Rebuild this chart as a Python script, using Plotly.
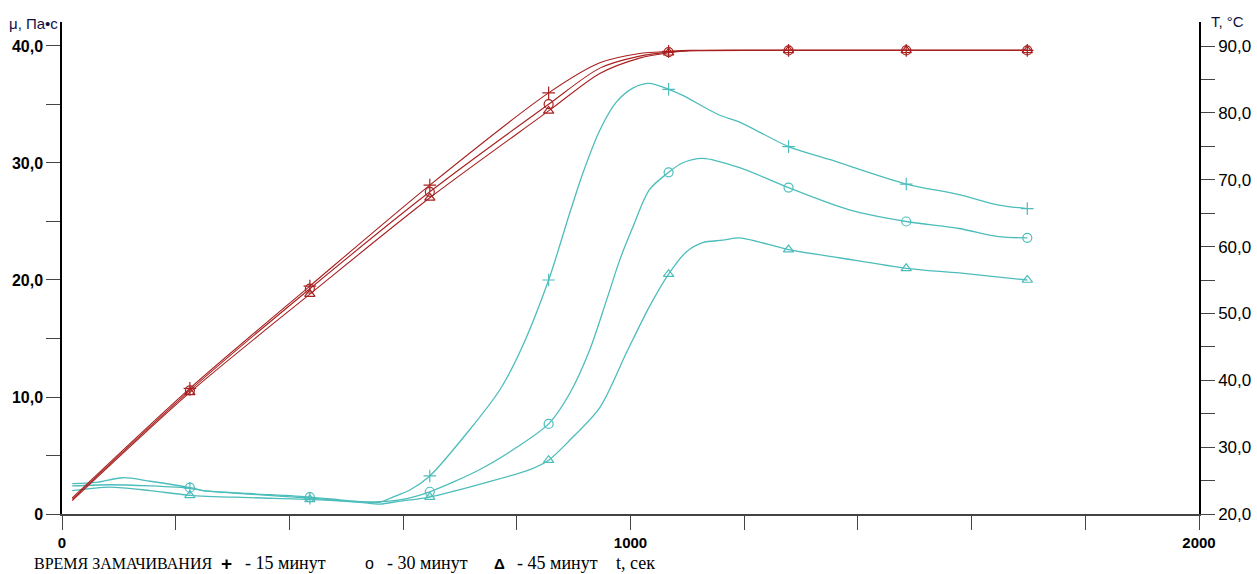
import plotly.graph_objects as go

# ---------------- data ----------------
MARK_T = [225, 436, 647, 856, 1067, 1278, 1485, 1698]

# Temperature curves (right axis, °C)
T_TIME = [18, 225, 436, 647, 856, 946, 1016, 1067, 1104, 1278, 1485, 1698]
T_15 = [22.4, 38.8, 54.1, 69.2, 83.0, 87.5, 88.9, 89.2, 89.35, 89.35, 89.35, 89.35]
T_30 = [22.2, 38.5, 53.7, 68.2, 81.3, 86.7, 88.5, 89.1, 89.3, 89.35, 89.35, 89.35]
T_45 = [22.0, 38.2, 52.9, 67.3, 80.3, 85.9, 88.2, 89.0, 89.3, 89.35, 89.35, 89.35]

# Viscosity curves (left axis, Pa*s)
MU15_T = [18, 84, 155, 225, 248, 330, 436, 489, 524, 559, 582, 612, 647, 717, 770, 805,
          856, 893, 916, 946, 975, 1004, 1033, 1067, 1091, 1156, 1192, 1278, 1350, 1485,
          1578, 1648, 1698]
MU15 = [2.4, 2.5, 2.4, 2.2, 2.0, 1.7, 1.35, 1.15, 1.05, 1.0, 1.45, 2.05, 3.25, 7.2, 10.6, 13.8,
        20.0, 25.7, 29.1, 32.8, 35.2, 36.4, 36.8, 36.3, 35.8, 34.1, 33.5, 31.4, 30.3, 28.2,
        27.3, 26.4, 26.1]

MU30_T = [18, 60, 107, 155, 225, 248, 330, 436, 489, 524, 559, 594, 647, 735, 800, 856,
          893, 928, 958, 981, 1004, 1033, 1067, 1091, 1127, 1192, 1278, 1385, 1485, 1578,
          1648, 1698]
MU30 = [2.6, 2.7, 3.1, 2.8, 2.25, 2.0, 1.75, 1.45, 1.2, 1.05, 1.05, 1.2, 1.9, 3.8, 5.7, 7.7,
        10.3, 14.0, 18.3, 21.7, 24.5, 27.7, 29.2, 30.0, 30.4, 29.6, 27.9, 26.0, 25.0, 24.4,
        23.7, 23.6]

MU45_T = [18, 84, 155, 225, 330, 436, 524, 559, 594, 647, 747, 823, 856, 893, 946, 993,
          1033, 1067, 1098, 1127, 1162, 1192, 1278, 1367, 1485, 1578, 1698]
MU45 = [2.0, 2.3, 2.0, 1.6, 1.4, 1.25, 1.0, 0.85, 1.1, 1.45, 2.7, 3.8, 4.6, 6.3, 9.1, 13.8,
        17.7, 20.5, 22.4, 23.2, 23.4, 23.6, 22.6, 21.9, 21.0, 20.6, 20.0]

X_TICKS = list(range(0, 2001, 200))
X_LABELS = {0: "<b>0</b>", 1000: "<b>1000</b>", 2000: "<b>2000</b>"}
MU_TICKS = [0, 10, 20, 30, 40]
MU_LABELS = ["<b>0</b>", "<b>10,0</b>", "<b>20,0</b>", "<b>30,0</b>", "<b>40,0</b>"]
T_TICKS = [20, 30, 40, 50, 60, 70, 80, 90]
T_LABELS = ["20,0", "30,0", "40,0", "50,0", "60,0", "70,0", "80,0", "90,0"]

RED = "#A82020"
TEAL = "#4DBDBB"
SYMBOLS = {"15": "cross-thin-open", "30": "circle-open", "45": "triangle-up-open"}

fig = go.Figure()


def add_curve(ts, vals, color, sym, yaxis, width):
    fig.add_trace(go.Scatter(x=ts, y=vals, mode="lines", yaxis=yaxis,
                             line=dict(color=color, width=width, shape="spline", smoothing=0.8),
                             showlegend=False, hoverinfo="skip"))
    mx = [t for t in ts if t in MARK_T]
    my = [v for t, v in zip(ts, vals) if t in MARK_T]
    fig.add_trace(go.Scatter(x=mx, y=my, mode="markers", yaxis=yaxis,
                             marker=dict(symbol=sym, size=9, color=color,
                                         line=dict(color=color, width=1.2)),
                             showlegend=False, hoverinfo="skip"))


add_curve(T_TIME, T_15, RED, SYMBOLS["15"], "y2", 1.1)
add_curve(T_TIME, T_30, RED, SYMBOLS["30"], "y2", 1.1)
add_curve(T_TIME, T_45, RED, SYMBOLS["45"], "y2", 1.1)
add_curve(MU15_T, MU15, TEAL, SYMBOLS["15"], "y", 1.3)
add_curve(MU30_T, MU30, TEAL, SYMBOLS["30"], "y", 1.3)
add_curve(MU45_T, MU45, TEAL, SYMBOLS["45"], "y", 1.3)

SANS = "Liberation Sans, Arial"
SERIF = "Liberation Serif, Times New Roman, serif"

fig.update_layout(
    width=1257, height=574,
    margin=dict(l=62, r=58, t=22, b=60, autoexpand=False),
    paper_bgcolor="white", plot_bgcolor="white",
    xaxis=dict(range=[0, 2000], showgrid=False, zeroline=False, showline=True, automargin=False,
               linecolor="#444", linewidth=1.5, ticks="outside", ticklen=14, tickcolor="#444",
               tickvals=X_TICKS, ticktext=[X_LABELS.get(v, "") for v in X_TICKS],
               tickfont=dict(family=SANS, size=15, color="black")),
    yaxis=dict(range=[0, 42.05], showgrid=False, zeroline=False, showline=True, automargin=False,
               linecolor="black", linewidth=1.5, ticks="outside", ticklen=14, tickcolor="#444",
               tickvals=MU_TICKS, ticktext=MU_LABELS,
               tickfont=dict(family=SANS, size=16, color="black"),
               minor=dict(tickvals=[5, 15, 25, 35], ticks="outside", ticklen=14, tickcolor="#444")),
    yaxis2=dict(range=[20, 93.6], overlaying="y", side="right", showgrid=False, zeroline=False,
                showline=True, automargin=False, linecolor="black", linewidth=1.5,
                ticks="outside", ticklen=14,
                tickcolor="#444", tickvals=T_TICKS, ticktext=T_LABELS,
                tickfont=dict(family=SANS, size=17, color="black"),
                minor=dict(tickvals=[25, 35, 45, 55, 65, 75, 85], ticks="outside", ticklen=14,
                           tickcolor="#444")),
)

LY = -0.0996
ann = [
    dict(text="μ, Па•с", x=-0.0255, y=0.996, xanchor="center", yanchor="middle",
         font=dict(family=SANS, size=15, color="#101040")),
    dict(text="T, °C", x=1.0255, y=1.002, xanchor="center", yanchor="middle",
         font=dict(family=SANS, size=15, color="#101040")),
    dict(text="ВРЕМЯ ЗАМАЧИВАНИЯ", x=-0.0264, y=LY, xanchor="left", yanchor="middle",
         font=dict(family=SERIF, size=16, color="black")),
    dict(text="<b>+</b>", x=(226 - 62) / 1137, y=LY, xanchor="center", yanchor="middle",
         font=dict(family=SANS, size=19, color="black")),
    dict(text="- 15 минут", x=(243 - 62) / 1137, y=LY, xanchor="left", yanchor="middle",
         font=dict(family=SERIF, size=18, color="black")),
    dict(text="o", x=(369 - 62) / 1137, y=LY, xanchor="center", yanchor="middle",
         font=dict(family=SANS, size=16, color="black")),
    dict(text="- 30 минут", x=(385 - 62) / 1137, y=LY, xanchor="left", yanchor="middle",
         font=dict(family=SERIF, size=18, color="black")),
    dict(text="<b>Δ</b>", x=(499 - 62) / 1137, y=LY, xanchor="center", yanchor="middle",
         font=dict(family=SANS, size=15, color="black")),
    dict(text="- 45 минут", x=(515 - 62) / 1137, y=LY, xanchor="left", yanchor="middle",
         font=dict(family=SERIF, size=18, color="black")),
    dict(text="t, сек", x=(614 - 62) / 1137, y=LY, xanchor="left", yanchor="middle",
         font=dict(family=SERIF, size=18, color="black")),
]
for a in ann:
    a.update(xref="paper", yref="paper", showarrow=False)
fig.update_layout(annotations=ann)

fig.write_html("out.html", config={"displayModeBar": False},
               post_script="document.body.style.margin='0';document.body.style.overflow='hidden';")
